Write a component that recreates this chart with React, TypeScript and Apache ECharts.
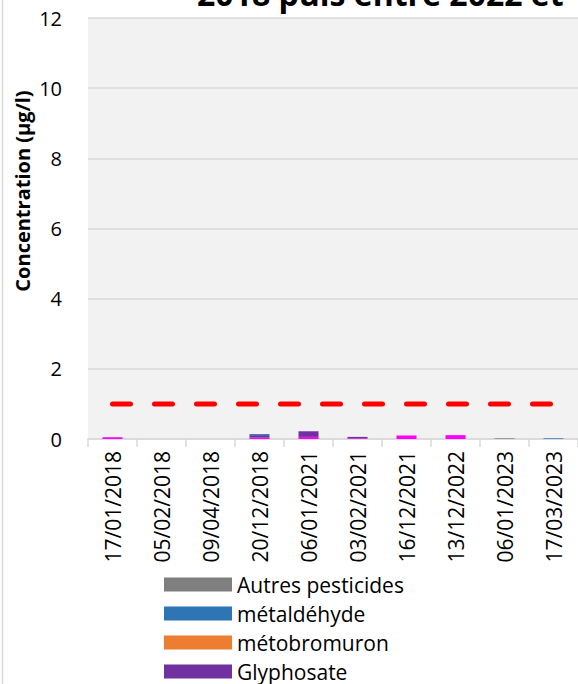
import React, { useEffect, useRef } from "react";
import * as echarts from "echarts";

const dates = [
  "17/01/2018",
  "05/02/2018",
  "09/04/2018",
  "20/12/2018",
  "06/01/2021",
  "03/02/2021",
  "16/12/2021",
  "13/12/2022",
  "06/01/2023",
  "17/03/2023",
];
const ampa = [0.05, 0, 0, 0.04, 0.06, 0.02, 0.1, 0.11, 0, 0];
const glyphosate = [0, 0, 0, 0.07, 0.16, 0.04, 0, 0, 0, 0];
const metobromuron = [0, 0, 0, 0, 0, 0, 0, 0, 0, 0];
const metaldehyde = [0, 0, 0, 0.03, 0, 0, 0, 0, 0, 0.02];
const autres = [0, 0, 0, 0, 0, 0, 0, 0, 0.02, 0];
const limite = [1, 1, 1, 1, 1, 1, 1, 1, 1, 1];
const legendNames = ["Autres pesticides", "métaldéhyde", "métobromuron", "Glyphosate"];
const yTitle = "Concentration (µg/l)";
const titleText = "2018 puis entre 2022 et";

const FONT = "Open Sans";

export default function App() {
  const ref = useRef<HTMLDivElement>(null);
  useEffect(() => {
    if (!ref.current) return;
    const chart = echarts.init(ref.current, undefined, { renderer: "svg" });
    const bar = (name: string, data: number[], color: string) => ({
      name,
      type: "bar",
      stack: "total",
      data,
      barWidth: 20,
      itemStyle: { color },
      emphasis: { disabled: true },
    });
    chart.setOption({
      animation: false,
      backgroundColor: "#ffffff",
      textStyle: { fontFamily: FONT },
      grid: {
        left: 88,
        right: 0,
        top: 18,
        bottom: 245,
        show: true,
        backgroundColor: "#f2f2f2",
        borderWidth: 0,
        containLabel: false,
      },
      legend: {
        data: legendNames,
        orient: "vertical",
        left: 159,
        top: 569,
        height: 300,
        itemWidth: 68,
        itemHeight: 14,
        itemGap: 8,
        icon: "rect",
        textStyle: { fontSize: 21, color: "#000", fontFamily: FONT },
      },
      xAxis: {
        type: "category",
        data: dates,
        axisLine: { show: true, lineStyle: { color: "#d9d9d9", width: 1.5 } },
        axisTick: { show: true, length: 8, lineStyle: { color: "#d9d9d9", width: 1.5 } },
        axisLabel: { rotate: 90, fontSize: 21, color: "#000", margin: 12, fontFamily: FONT, interval: 0 },
      },
      yAxis: {
        type: "value",
        min: 0,
        max: 12,
        interval: 2,
        axisLine: { show: false },
        axisTick: { show: false },
        splitLine: { show: true, lineStyle: { color: "#d9d9d9", width: 1.5 } },
        axisLabel: { fontSize: 20, color: "#000", margin: 26, fontFamily: FONT },
      },
      series: [
        bar("AMPA", ampa, "#ff00ff"),
        bar("Glyphosate", glyphosate, "#7030a0"),
        bar("métobromuron", metobromuron, "#ed7d31"),
        bar("métaldéhyde", metaldehyde, "#2e75b6"),
        bar("Autres pesticides", autres, "#7f7f7f"),
        {
          name: "Limite",
          type: "line",
          data: limite,
          symbol: "none",
          lineStyle: { color: "#ff0000", width: 5, type: [18, 24], cap: "round" },
          emphasis: { disabled: true },
          z: 5,
        },
      ],
      graphic: [
        {
          type: "line",
          shape: { x1: 2.5, y1: 0, x2: 2.5, y2: 684 },
          style: { stroke: "#d9d9d9", lineWidth: 1.5 },
        },
        {
          type: "text",
          x: 22,
          y: 191,
          rotation: Math.PI / 2,
          style: {
            text: yTitle,
            fontSize: 20,
            fontWeight: "bold",
            fontFamily: FONT,
            fill: "#000",
            align: "center",
            verticalAlign: "middle",
          },
        },
        {
          type: "text",
          x: 197,
          y: -7,
          style: {
            text: titleText,
            fontSize: 32,
            fontWeight: "bold",
            fontFamily: FONT,
            fill: "#000",
            align: "left",
            verticalAlign: "middle",
          },
        },
      ],
    });
    return () => chart.dispose();
  }, []);
  return (
    <div
      ref={ref}
      style={{ position: "fixed", left: 0, top: 0, width: 578, height: 684 }}
    />
  );
}
